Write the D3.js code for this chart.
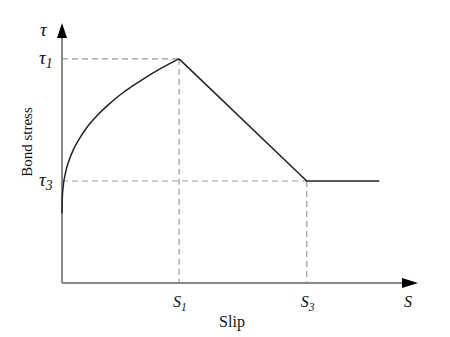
<!DOCTYPE html>
<html><head><meta charset="utf-8">
<script src="https://cdn.jsdelivr.net/npm/d3@7"></script>
<style>body{margin:0;background:#fff}svg{display:block}text{font-family:"Liberation Serif","Times New Roman",serif;fill:#111}</style>
</head><body><div id="chart"></div>
<script>
// Bond stress–slip model (normalized: s1 = 1, tau1 = 1)
const curveSlip = [0, 0.002, 0.01, 0.03, 0.06, 0.1, 0.15, 0.2, 0.3, 0.4, 0.5, 0.6, 0.7, 0.8, 0.9, 1.0];
const curveTau  = [0.31, 0.375, 0.43, 0.492, 0.547, 0.598, 0.645, 0.685, 0.747, 0.797, 0.841, 0.878, 0.912, 0.944, 0.973, 1.0];
const linearSlip = [1.0, 2.09, 2.71];
const linearTau  = [1.0, 0.455, 0.455];
const keySlip = [1.0, 2.09];
const keyTau = [1.0, 0.455];
const xTickLabels = ["S", "S"];
const xTickSubs = ["1", "3"];
const yTickLabels = ["τ", "τ"];
const yTickSubs = ["1", "3"];
const xAxisMax = 3.04, yAxisMax = 1.16;

const W = 450, H = 337;
const svg = d3.select("#chart").append("svg").attr("width", W).attr("height", H);
const x = d3.scaleLinear().domain([0, xAxisMax]).range([62, 418]);
const y = d3.scaleLinear().domain([0, yAxisMax]).range([283, 23]);

// dashed guides
const dash = svg.append("g").attr("stroke", "#999").attr("stroke-width", 1.2).attr("stroke-dasharray", "6,4").attr("fill", "none");
keySlip.forEach((s, i) => {
  dash.append("line").attr("x1", x(0)).attr("x2", x(s)).attr("y1", y(keyTau[i])).attr("y2", y(keyTau[i]));
  dash.append("line").attr("x1", x(s)).attr("x2", x(s)).attr("y1", y(keyTau[i])).attr("y2", y(0));
});

// axes
const ax = svg.append("g").attr("stroke", "#888").attr("stroke-width", 2);
ax.append("line").attr("x1", x(0)).attr("x2", x(xAxisMax) - 12).attr("y1", y(0)).attr("y2", y(0));
ax.append("line").attr("x1", x(0)).attr("x2", x(0)).attr("y1", y(0)).attr("y2", y(yAxisMax) + 12);
svg.append("path").attr("fill", "#000")
  .attr("d", `M${x(xAxisMax)},${y(0)} L${x(xAxisMax) - 16},${y(0) - 5} L${x(xAxisMax) - 16},${y(0) + 5} Z`);
svg.append("path").attr("fill", "#000")
  .attr("d", `M${x(0)},${y(yAxisMax)} L${x(0) - 5},${y(yAxisMax) + 15} L${x(0) + 5},${y(yAxisMax) + 15} Z`);

// curve
svg.append("path").datum(curveSlip.map((s, i) => [s, curveTau[i]]))
  .attr("d", d3.line().x(d => x(d[0])).y(d => y(d[1])).curve(d3.curveMonotoneX))
  .attr("fill", "none").attr("stroke", "#222").attr("stroke-width", 1.5);
svg.append("path").datum(linearSlip.map((s, i) => [s, linearTau[i]]))
  .attr("d", d3.line().x(d => x(d[0])).y(d => y(d[1])))
  .attr("fill", "none").attr("stroke", "#222").attr("stroke-width", 1.5);

// tick labels
function sub(sel, main, s, size) {
  sel.append("tspan").text(main).attr("font-size", size);
  sel.append("tspan").text(s).attr("font-size", size * 0.72).attr("dy", 4);
}
keySlip.forEach((s, i) => {
  const t = svg.append("text").attr("x", x(s) - 6).attr("y", 307).attr("font-style", "italic");
  sub(t, xTickLabels[i], xTickSubs[i], 16);
});
svg.append("text").attr("x", 404).attr("y", 307).attr("font-style", "italic").attr("font-size", 16).text("S");
keyTau.forEach((v, i) => {
  const t = svg.append("text").attr("x", 39).attr("y", y(v) + 5).attr("font-style", "italic");
  sub(t, yTickLabels[i], yTickSubs[i], 19);
});
svg.append("text").attr("x", 40).attr("y", 36).attr("font-style", "italic").attr("font-size", 19).text("τ");

// axis titles
svg.append("text").attr("x", 232).attr("y", 327).attr("text-anchor", "middle").attr("font-size", 16).text("Slip");
svg.append("text").attr("transform", "translate(32,142) rotate(-90)").attr("text-anchor", "middle").attr("font-size", 15).text("Bond stress");
</script></body></html>
